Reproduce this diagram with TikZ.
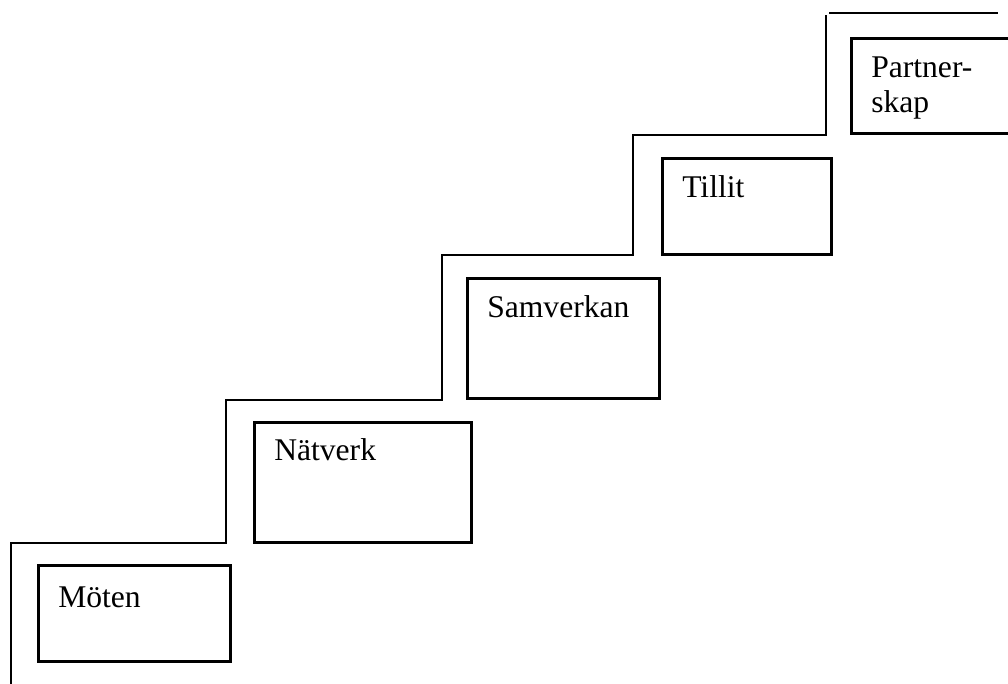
\documentclass[tikz,border=0pt]{standalone}
\usepackage{fontspec}
\setmainfont{Liberation Serif}
\begin{document}
\begin{tikzpicture}[x=0.75pt,y=-0.75pt,
  stair/.style={line width=1.6pt,line join=miter},
  stepbox/.style={draw,line width=1.9pt,inner sep=0pt,anchor=north west},
  lbl/.style={anchor=base west,inner sep=0pt,font=\fontsize{23.7}{27}\selectfont}]
\useasboundingbox (0,0) rectangle (1008,684);
\clip (0,0) rectangle (1008,684);
% staircase
\coordinate (s0) at (11,684);
\coordinate (s1) at (11,543);
\coordinate (s2) at (226,543);
\coordinate (s3) at (226,400);
\coordinate (s4) at (442,400);
\coordinate (s5) at (442,255);
\coordinate (s6) at (633,255);
\coordinate (s7) at (633,135);
\coordinate (s8) at (826,135);
\coordinate (s9) at (826,15);
\coordinate (t0) at (829,13);
\coordinate (t1) at (998,13);
\draw[stair] (s0) -- (s1) -- (s2) -- (s3) -- (s4) -- (s5) -- (s6) -- (s7) -- (s8) -- (s9);
\draw[stair] (t0) -- (t1);
% boxes
\node[stepbox,minimum width=192*0.75pt,minimum height=96*0.75pt] (b1) at (37,564) {};
\node[stepbox,minimum width=217*0.75pt,minimum height=120*0.75pt] (b2) at (253,421) {};
\node[stepbox,minimum width=192*0.75pt,minimum height=120*0.75pt] (b3) at (466,277) {};
\node[stepbox,minimum width=169*0.75pt,minimum height=96*0.75pt] (b4) at (661,157) {};
\node[stepbox,minimum width=170*0.75pt,minimum height=95*0.75pt] (b5) at (850,37) {};
% labels
\node[lbl] (l1) at (58,607) {Möten};
\node[lbl] (l2) at (274,461) {Nätverk};
\node[lbl] (l3) at (487,318) {Samverkan};
\node[lbl] (l4) at (682,198) {Tillit};
\node[lbl] (l5a) at (871,78) {Partner-};
\node[lbl] (l5b) at (871,113) {skap};
\end{tikzpicture}
\end{document}
